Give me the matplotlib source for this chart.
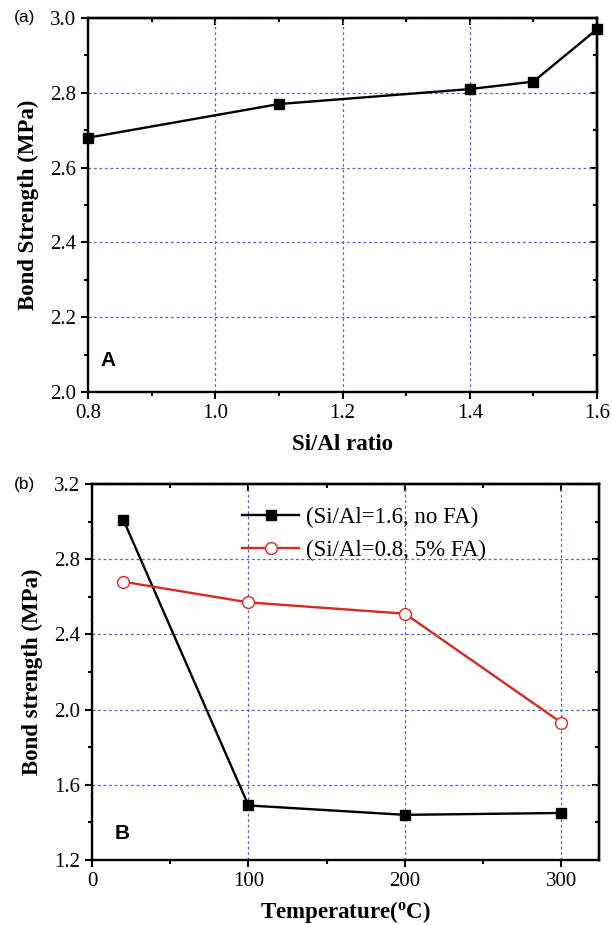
import numpy as np
import matplotlib.pyplot as plt
from matplotlib.ticker import MultipleLocator

# Panel (a): bond strength vs Si/Al ratio
ratio = [0.8, 1.1, 1.4, 1.5, 1.6]
strength_a = [2.68, 2.77, 2.81, 2.83, 2.97]

# Panel (b): bond strength vs temperature
temp = [20, 100, 200, 300]
strength_noFA = [3.01, 1.49, 1.44, 1.45]
strength_FA = [2.68, 2.57, 2.51, 1.93]
labels_b = ['(Si/Al=1.6, no FA)', '(Si/Al=0.8, 5% FA)']

serif = 'Liberation Serif'
sans = 'Liberation Sans'
fs_tick = 15
fs_lab = 16.5
grid_col = '#5c5cd0'

fig = plt.figure(figsize=(6.12, 9.25), dpi=100)
ax1 = fig.add_axes([0.1438, 0.5762, 0.8317, 0.4043])
ax2 = fig.add_axes([0.1503, 0.0703, 0.8284, 0.4065])


def style(ax, xmaj, xmin, ymaj, ymin):
    for s in ax.spines.values():
        s.set_linewidth(1.7)
    ax.xaxis.set_major_locator(MultipleLocator(xmaj))
    ax.xaxis.set_minor_locator(MultipleLocator(xmin))
    ax.yaxis.set_major_locator(MultipleLocator(ymaj))
    ax.yaxis.set_minor_locator(MultipleLocator(ymin))
    ax.tick_params(which='both', direction='out', width=1.5, labelsize=fs_tick)
    ax.tick_params(which='major', length=5)
    ax.tick_params(which='minor', length=3)
    ax.grid(True, which='major', color=grid_col, linestyle=(0, (2.2, 2.2)), linewidth=0.9)
    for lab in ax.get_xticklabels() + ax.get_yticklabels():
        lab.set_fontfamily(serif)
    # mirrored ticks on top / right point inwards
    top = ax.secondary_xaxis('top')
    top.xaxis.set_major_locator(MultipleLocator(xmaj))
    top.xaxis.set_minor_locator(MultipleLocator(xmin))
    top.tick_params(which='both', direction='in', width=1.5, labeltop=False)
    top.tick_params(which='major', length=5)
    top.tick_params(which='minor', length=3)
    top.spines['top'].set_linewidth(1.7)
    right = ax.secondary_yaxis('right')
    right.yaxis.set_major_locator(MultipleLocator(ymaj))
    right.yaxis.set_minor_locator(MultipleLocator(ymin))
    right.tick_params(which='both', direction='in', width=1.5, labelright=False)
    right.tick_params(which='major', length=5)
    right.tick_params(which='minor', length=3)
    right.spines['right'].set_linewidth(1.7)


# (a)
ax1.plot(ratio, strength_a, 'k-', marker='s', markersize=7.5, linewidth=1.7, clip_on=False, zorder=3)
ax1.set_xlim(0.8, 1.6)
ax1.set_ylim(2.0, 3.0)
style(ax1, 0.2, 0.1, 0.2, 0.1)
ax1.xaxis.set_major_formatter(lambda v, p: '%.1f' % v)
ax1.set_xlabel('Si/Al ratio', fontsize=fs_lab, fontweight='bold', family=serif, labelpad=8)
ax1.set_ylabel('Bond Strength (MPa)', fontsize=fs_lab, fontweight='bold', family=serif, labelpad=8)
ax1.text(0.025, 0.07, 'A', transform=ax1.transAxes, fontsize=15, fontweight='bold', family=sans)

# (b)
ax2.plot(temp, strength_noFA, 'k-', marker='s', markersize=7.5, linewidth=1.7,
         label=labels_b[0], zorder=3)
ax2.plot(temp, strength_FA, '-', color='#d42a20', marker='o', markersize=8.5,
         markerfacecolor='white', markeredgecolor='#d42a20', linewidth=1.7,
         label=labels_b[1], zorder=3)
ax2.set_xlim(0, 324)
ax2.set_ylim(1.2, 3.2)
style(ax2, 100, 50, 0.4, 0.2)
ax2.yaxis.set_major_formatter(lambda v, p: '%.1f' % v)
ax2.set_xlabel(r'Temperature($\mathregular{^oC}$)', fontsize=fs_lab, fontweight='bold', family=serif, labelpad=6)
ax2.set_ylabel('Bond strength (MPa)', fontsize=fs_lab, fontweight='bold', family=serif, labelpad=8)
ax2.text(0.045, 0.055, 'B', transform=ax2.transAxes, fontsize=15, fontweight='bold', family=sans)
ax2.legend(loc='upper left', bbox_to_anchor=(0.255, 0.995), frameon=False, handlelength=2.5,
           prop={'family': serif, 'size': fs_lab}, labelspacing=0.55, handletextpad=0.3)

fig.text(0.022, 0.981, '(a)', fontsize=12.5, family=sans, va='center')
fig.text(0.022, 0.476, '(b)', fontsize=12.5, family=sans, va='center')

fig.savefig('out.png', dpi=100)
